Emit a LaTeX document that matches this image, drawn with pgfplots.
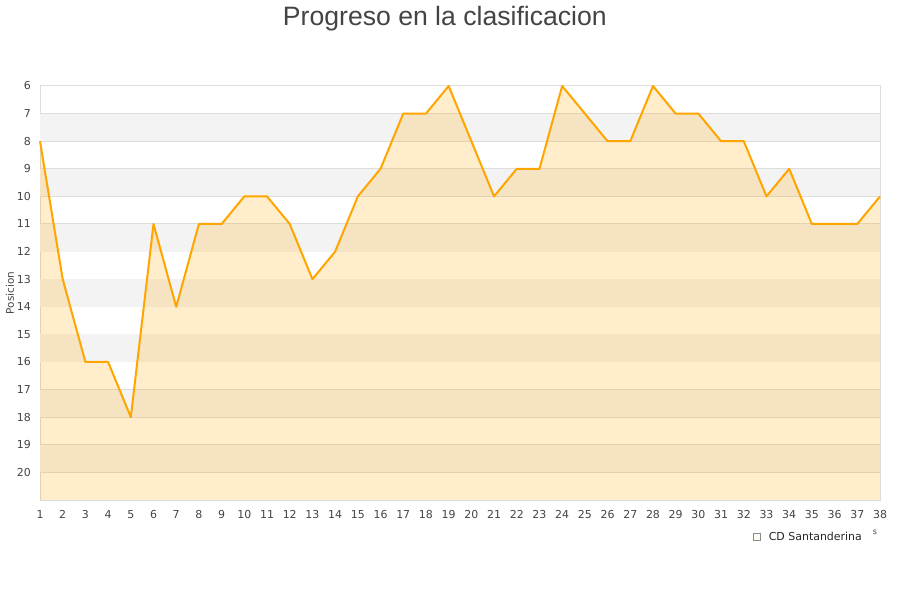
\documentclass[border=0pt]{standalone}
\usepackage{fontspec}
\setmainfont{DejaVu Sans}
\newfontfamily\titlefont{Liberation Sans}
\usepackage{pgfplots}
\usepackage{pgfplotstable}
\pgfplotsset{compat=1.18}

\definecolor{lineorange}{HTML}{FFA500}
\definecolor{band}{HTML}{F3F3F3}
\definecolor{gridc}{HTML}{DDDDDD}
\definecolor{txt}{HTML}{444444}

\pgfplotstableread{
j pos
1 8
2 13
3 16
4 16
5 18
6 11
7 14
8 11
9 11
10 10
11 10
12 11
13 13
14 12
15 10
16 9
17 7
18 7
19 6
20 8
21 10
22 9
23 9
24 6
25 7
26 8
27 8
28 6
29 7
30 7
31 8
32 8
33 10
34 9
35 11
36 11
37 11
38 10
}\santanderina

\begin{document}
\begin{tikzpicture}
\begin{axis}[
    set layers,
    at={(0,0)}, anchor=south west,
    scale only axis,
    width=840bp, height=414bp,
    xmin=1, xmax=38, ymin=6, ymax=21,
    y dir=reverse,
    clip=false,
    xtick={1,...,38},
    ytick={6,...,20},
    major tick length=0pt,
    ymajorgrids,
    grid style={draw=gridc, line width=1bp},
    axis line style={draw=gridc, line width=1bp},
    /pgf/number format/assume math mode=true,
    tick label style={font=\fontsize{11}{13}\selectfont, text=txt},
    xticklabel style={anchor=north, inner sep=0pt, yshift=-10bp},
    yticklabel style={anchor=east, inner sep=0pt, xshift=-9bp},
    ylabel={Posicion},
    every axis y label/.style={at={(axis description cs:-0.0357,0.5)}, rotate=90, anchor=center, font=\fontsize{10.5}{12}\selectfont, text=txt},
    title={\titlefont Progreso en la clasificacion},
    title style={at={(axis description cs:0.482,1.131)}, anchor=base, inner sep=0pt, font=\fontsize{26.7}{30}\selectfont, text=txt},
    legend style={at={(axis description cs:0.848,-0.0894)}, anchor=west, draw=none, fill=none, inner sep=0pt,
        font=\fontsize{11}{13}\selectfont, text=black!85},
    legend cell align=left,
    legend image code/.code={
        \draw[draw=black!45, fill=lineorange!25, line width=0.6bp] (0bp,-3.5bp) rectangle (7bp,3.5bp);
        \path (14bp,0bp);
    },
]
% alternating background bands
\fill[band, on layer=axis background] (axis cs:1,7) rectangle (axis cs:38,8);
\fill[band, on layer=axis background] (axis cs:1,9) rectangle (axis cs:38,10);
\fill[band, on layer=axis background] (axis cs:1,11) rectangle (axis cs:38,12);
\fill[band, on layer=axis background] (axis cs:1,13) rectangle (axis cs:38,14);
\fill[band, on layer=axis background] (axis cs:1,15) rectangle (axis cs:38,16);
\fill[band, on layer=axis background] (axis cs:1,17) rectangle (axis cs:38,18);
\fill[band, on layer=axis background] (axis cs:1,19) rectangle (axis cs:38,20);

\addplot[draw=none, fill=lineorange, fill opacity=0.2] table[x=j, y=pos] {\santanderina}
    -- (axis cs:38,21) -- (axis cs:1,21) -- cycle;
\addlegendentry{CD Santanderina}
\addplot[forget plot, draw=lineorange, line width=2bp, line join=round, mark=none] table[x=j, y=pos] {\santanderina};

\node[font=\fontsize{8}{9}\selectfont, text=txt] at (axis description cs:0.994,-0.0773) {s};
\end{axis}
\path (-40bp,-100bp) rectangle (860bp,500bp);
\end{tikzpicture}
\end{document}
